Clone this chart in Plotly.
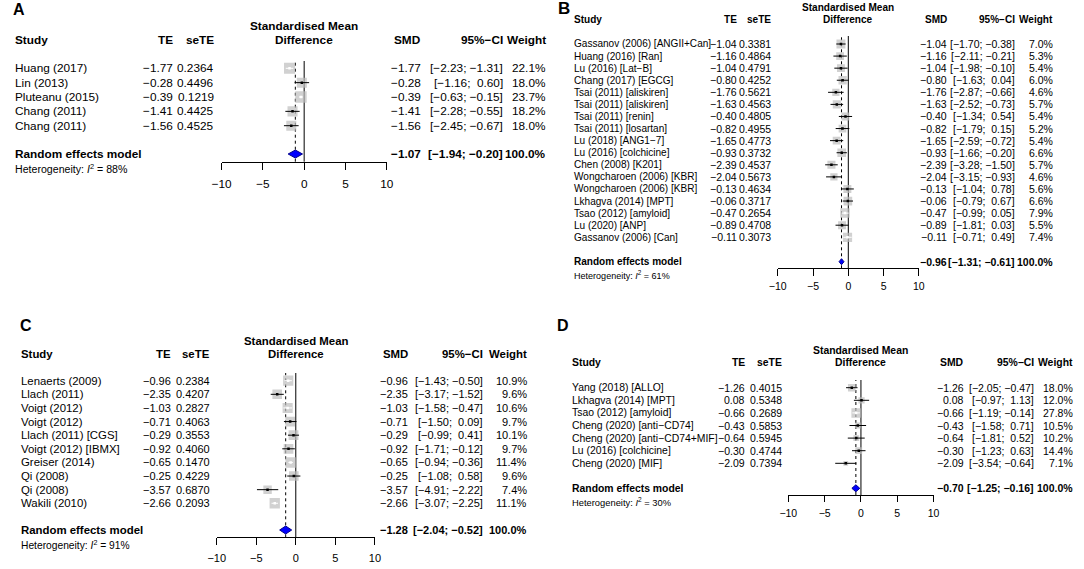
import plotly.graph_objects as go

W, H = 1084, 569
FONT = "Liberation Sans, Arial, Helvetica, sans-serif"
BOX_GREY = "#BEBEBE"
MINUS = "\u2212"

# ---------------- panel A
a_study = ["Huang (2017)", "Lin (2013)", "Pluteanu (2015)", "Chang (2011)", "Chang (2011)"]
a_te = [-1.77, -0.28, -0.39, -1.41, -1.56]
a_sete = [0.2364, 0.4496, 0.1219, 0.4425, 0.4525]
a_lo = [-2.23, -1.16, -0.63, -2.28, -2.45]
a_hi = [-1.31, 0.60, -0.15, -0.55, -0.67]
a_weight = [22.1, 18.0, 23.7, 18.2, 18.0]
a_random = [-1.07, -1.94, -0.20]
a_i2 = 88

# ---------------- panel B
b_study = ["Gassanov (2006) [ANGII+Can]", "Huang (2016) [Ran]", "Lu (2016) [Lat−B]",
           "Chang (2017) [EGCG]", "Tsai (2011) [aliskiren]", "Tsai (2011) [aliskiren]",
           "Tsai (2011) [renin]", "Tsai (2011) [losartan]", "Lu (2018) [ANG1−7]",
           "Lu (2016) [colchicine]", "Chen (2008) [K201]", "Wongcharoen (2006) [KBR]",
           "Wongcharoen (2006) [KBR]", "Lkhagva (2014) [MPT]", "Tsao (2012) [amyloid]",
           "Lu (2020) [ANP]", "Gassanov (2006) [Can]"]
b_te = [-1.04, -1.16, -1.04, -0.80, -1.76, -1.63, -0.40, -0.82, -1.65,
        -0.93, -2.39, -2.04, -0.13, -0.06, -0.47, -0.89, -0.11]
b_sete = [0.3381, 0.4864, 0.4791, 0.4252, 0.5621, 0.4563, 0.4805, 0.4955, 0.4773,
          0.3732, 0.4537, 0.5673, 0.4634, 0.3717, 0.2654, 0.4708, 0.3073]
b_lo = [-1.70, -2.11, -1.98, -1.63, -2.87, -2.52, -1.34, -1.79, -2.59,
        -1.66, -3.28, -3.15, -1.04, -0.79, -0.99, -1.81, -0.71]
b_hi = [-0.38, -0.21, -0.10, 0.04, -0.66, -0.73, 0.54, 0.15, -0.72,
        -0.20, -1.50, -0.93, 0.78, 0.67, 0.05, 0.03, 0.49]
b_weight = [7.0, 5.3, 5.4, 6.0, 4.6, 5.7, 5.4, 5.2, 5.4, 6.6, 5.7, 4.6, 5.6, 6.6, 7.9, 5.5, 7.4]
b_random = [-0.96, -1.31, -0.61]
b_i2 = 61

# ---------------- panel C
c_study = ["Lenaerts (2009)", "Llach (2011)", "Voigt (2012)", "Voigt (2012)", "Llach (2011) [CGS]",
           "Voigt (2012) [IBMX]", "Greiser (2014)", "Qi (2008)", "Qi (2008)", "Wakili (2010)"]
c_te = [-0.96, -2.35, -1.03, -0.71, -0.29, -0.92, -0.65, -0.25, -3.57, -2.66]
c_sete = [0.2384, 0.4207, 0.2827, 0.4063, 0.3553, 0.4060, 0.1470, 0.4229, 0.6870, 0.2093]
c_lo = [-1.43, -3.17, -1.58, -1.50, -0.99, -1.71, -0.94, -1.08, -4.91, -3.07]
c_hi = [-0.50, -1.52, -0.47, 0.09, 0.41, -0.12, -0.36, 0.58, -2.22, -2.25]
c_weight = [10.9, 9.6, 10.6, 9.7, 10.1, 9.7, 11.4, 9.6, 7.4, 11.1]
c_random = [-1.28, -2.04, -0.52]
c_i2 = 91

# ---------------- panel D
d_study = ["Yang (2018) [ALLO]", "Lkhagva (2014) [MPT]", "Tsao (2012) [amyloid]",
           "Cheng (2020) [anti−CD74]", "Cheng (2020) [anti−CD74+MIF]",
           "Lu (2016) [colchicine]", "Cheng (2020) [MIF]"]
d_te = [-1.26, 0.08, -0.66, -0.43, -0.64, -0.30, -2.09]
d_sete = [0.4015, 0.5348, 0.2689, 0.5853, 0.5945, 0.4744, 0.7394]
d_lo = [-2.05, -0.97, -1.19, -1.58, -1.81, -1.23, -3.54]
d_hi = [-0.47, 1.13, -0.14, 0.71, 0.52, 0.63, -0.64]
d_weight = [18.0, 12.0, 27.8, 10.5, 10.2, 14.4, 7.1]
d_random = [-0.70, -1.25, -0.16]
d_i2 = 30

x_ticks = [-10, -5, 0, 5, 10]
headers = ["Study", "TE", "seTE", "SMD", "95%−CI", "Weight"]

# layout of each panel, in pixels of the 1084x569 picture
panels = [
    dict(label="A", lab=(2, 10, 16), data=(a_study, a_te, a_sete, a_lo, a_hi, a_weight, a_random, a_i2),
         xl=215, xr=382.7, top=61, axis=161.7, row0=68.3, pitch=14.35, sum_y=154, het_y=169,
         title_y=26, head_y=40, cols=(4, 166.7, 208.3, 419, 502, 546), fs=11.8, fn=11.8,
         box_k=2.36, dia=4, tl=7, std=4),
    dict(label="B", lab=(555.5, 9, 17), data=(b_study, b_te, b_sete, b_lo, b_hi, b_weight, b_random, b_i2),
         xl=780, xr=923.3, top=36, axis=268.3, row0=44, pitch=12.08, sum_y=261.7, het_y=275,
         title_y=7, head_y=20, cols=(572, 739.3, 774.3, 953, 1021.6, 1060.5), fs=10.05, fn=10.5,
         box_k=3.38, dia=3, tl=6.5, std=2),
    dict(label="C", lab=(9.5, 325, 16), data=(c_study, c_te, c_sete, c_lo, c_hi, c_weight, c_random, c_i2),
         xl=210, xr=370.7, top=373, axis=537.3, row0=380.7, pitch=13.62, sum_y=530, het_y=545,
         title_y=341, head_y=354, cols=(9.7, 164.8, 204.5, 405, 482, 525.9), fs=11.4, fn=11.0,
         box_k=3.1, dia=4, tl=7, std=3),
    dict(label="D", lab=(554.5, 325, 16), data=(d_study, d_te, d_sete, d_lo, d_hi, d_weight, d_random, d_i2),
         xl=790.7, xr=938.3, top=380, axis=495, row0=387.7, pitch=12.6, sum_y=488.3, het_y=502,
         title_y=350, head_y=363, cols=(570, 748, 785, 970, 1041.4, 1081), fs=10.4, fn=10.5,
         box_k=1.8, dia=3.5, tl=6, std=2),
]


def fx(p):
    return p / W


def fy(p):
    return 1 - p / H


def num(v, d=2):
    return f"{v:.{d}f}".replace("-", MINUS)


def ci(lo, hi):
    lo_s = num(lo) if lo < 0 else "\u00a0" + num(lo)
    hi_s = num(hi) if hi < 0 else "\u00a0" + num(hi)
    return f"[{lo_s}; {hi_s}]"


fig = go.Figure()
annotations = []
shapes = []

for i, p in enumerate(panels, start=1):
    study, te, sete, lo, hi, weight, rand, i2 = p["data"]
    xa = "x" if i == 1 else f"x{i}"
    ya = "y" if i == 1 else f"y{i}"
    n = len(study)
    rows = list(range(n))
    k_axis = (p["axis"] - p["row0"]) / p["pitch"]
    k_top = (p["top"] - p["row0"]) / p["pitch"]
    k_sum = (p["sum_y"] - p["row0"]) / p["pitch"]
    unit_px = (p["xr"] - p["xl"]) / 20.0
    fs, fn = p["fs"], p["fn"]

    fig.layout["xaxis" if i == 1 else f"xaxis{i}"] = dict(
        domain=[fx(p["xl"]), fx(p["xr"])], range=[-10, 10], anchor=ya,
        showline=True, linecolor="black", linewidth=1, ticks="outside", ticklen=p["tl"],
        tickwidth=1, tickcolor="black", tickvals=x_ticks, showgrid=False, zeroline=False,
        tickfont=dict(family=FONT, size=fn, color="black"), ticklabelstandoff=p["std"],
        fixedrange=True)
    fig.layout["yaxis" if i == 1 else f"yaxis{i}"] = dict(
        domain=[fy(p["axis"]), fy(p["top"])], range=[k_axis, k_top], visible=False,
        anchor=xa, fixedrange=True)

    # reference lines: no effect and pooled estimate
    shapes.append(dict(type="line", xref=xa, yref=f"{ya} domain", x0=0, x1=0, y0=0, y1=1,
                       line=dict(color="black", width=1), layer="below"))
    shapes.append(dict(type="line", xref=xa, yref=f"{ya} domain", x0=rand[0], x1=rand[0], y0=0, y1=1,
                       line=dict(color="black", width=1, dash="dot"), layer="below"))

    sizes = [p["box_k"] * w ** 0.5 for w in weight]
    fig.add_trace(go.Scatter(x=te, y=rows, mode="markers", xaxis=xa, yaxis=ya,
                             marker=dict(symbol="square", size=sizes, color=BOX_GREY, line=dict(width=0)),
                             showlegend=False, hoverinfo="skip"))

    # CI inside the box is drawn white, otherwise black
    for colour in ("black", "white"):
        xs, ys, cx, cy = [], [], [], []
        for k in rows:
            inside = (hi[k] - lo[k]) * unit_px < sizes[k]
            if (colour == "white") == inside:
                xs += [lo[k], hi[k], None]
                ys += [k, k, None]
                cx.append(te[k])
                cy.append(k)
        if xs:
            fig.add_trace(go.Scatter(x=xs, y=ys, mode="lines", xaxis=xa, yaxis=ya,
                                     line=dict(color=colour, width=1), showlegend=False, hoverinfo="skip"))
            fig.add_trace(go.Scatter(x=cx, y=cy, mode="markers", xaxis=xa, yaxis=ya,
                                     marker=dict(symbol="square", size=2.5, color=colour),
                                     showlegend=False, hoverinfo="skip"))

    dh = p["dia"] / p["pitch"]
    fig.add_trace(go.Scatter(x=[rand[1], rand[0], rand[2], rand[0], rand[1]],
                             y=[k_sum, k_sum - dh, k_sum, k_sum + dh, k_sum],
                             mode="lines", fill="toself", fillcolor="#0000FF", xaxis=xa, yaxis=ya,
                             line=dict(color="#00008B", width=1), showlegend=False, hoverinfo="skip"))

    c_name, c_te, c_se, c_smd, c_ci, c_w = p["cols"]

    def txt(x, y, s, anchor="right", yref="paper", size=fs, bold=False):
        annotations.append(dict(x=fx(x), y=y, xref="paper", yref=yref, text=f"<b>{s}</b>" if bold else s,
                                showarrow=False, xanchor=anchor, yanchor="middle", borderpad=0,
                                font=dict(family=FONT, size=size, color="black")))

    # panel letter
    lx, ly, ls = p["lab"]
    txt(lx, fy(ly), p["label"], anchor="left", size=ls, bold=True)

    # column headers
    cx0 = (p["xl"] + p["xr"]) / 2
    txt(cx0, fy(p["title_y"]), "Standardised Mean", anchor="center", bold=True)
    txt(cx0, fy(p["head_y"]), "Difference", anchor="center", bold=True)
    txt(c_name, fy(p["head_y"]), headers[0], anchor="left", bold=True)
    for x, h in zip((c_te, c_se, c_smd, c_ci, c_w), headers[1:]):
        txt(x, fy(p["head_y"]), h, bold=True)

    # study rows
    for k in rows:
        txt(c_name, k, study[k], anchor="left", yref=ya)
        txt(c_te, k, num(te[k]), yref=ya, size=fn)
        txt(c_se, k, num(sete[k], 4), yref=ya, size=fn)
        txt(c_smd, k, num(te[k]), yref=ya, size=fn)
        txt(c_ci, k, ci(lo[k], hi[k]), yref=ya, size=fn)
        txt(c_w, k, f"{weight[k]:.1f}%", yref=ya, size=fn)

    # pooled row
    txt(c_name, k_sum, "Random effects model", anchor="left", yref=ya, bold=True)
    txt(c_smd, k_sum, num(rand[0]), yref=ya, size=fn, bold=True)
    txt(c_ci, k_sum, ci(rand[1], rand[2]), yref=ya, size=fn, bold=True)
    txt(c_w, k_sum, "100.0%", yref=ya, size=fn, bold=True)
    txt(c_name, fy(p["het_y"]), f"Heterogeneity: <i>I</i><sup>2</sup> = {i2}%", anchor="left",
        size=fs * 0.9)

fig.update_layout(width=W, height=H, margin=dict(l=0, r=0, t=0, b=0, pad=0),
                  paper_bgcolor="white", plot_bgcolor="rgba(0,0,0,0)",
                  annotations=annotations, shapes=shapes, showlegend=False,
                  font=dict(family=FONT, color="black"))

fig.write_html("out.html", config={"displayModeBar": False},
               post_script="document.body.style.margin='0px';")
